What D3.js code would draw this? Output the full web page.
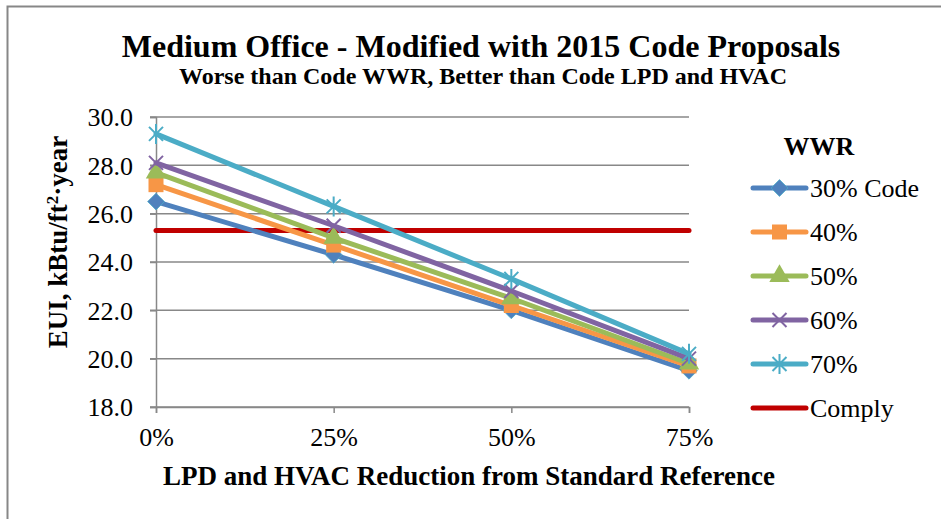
<!DOCTYPE html>
<html>
<head>
<meta charset="utf-8">
<script src="https://cdn.jsdelivr.net/npm/d3@7"></script>
<style>
  body { margin: 0; background: #fff; }
</style>
</head>
<body>
<div id="chart"></div>
<script>
// data
var reductions = [0, 25, 50, 75];
var xTickLabels = ["0%", "25%", "50%", "75%"];
var wwr30 = [26.5, 24.3, 22.0, 19.5];
var wwr40 = [27.2, 24.7, 22.2, 19.7];
var wwr50 = [27.7, 25.0, 22.5, 19.8];
var wwr60 = [28.1, 25.5, 22.8, 20.0];
var wwr70 = [29.3, 26.3, 23.3, 20.2];
var complyValue = 25.3;
var seriesNames = ["30% Code", "40%", "50%", "60%", "70%"];
var yTicks = [18, 20, 22, 24, 26, 28, 30];

var colors = ["#4F81BD", "#F79646", "#9BBB59", "#8064A2", "#4BACC6"];
var markers = ["diamond", "square", "triangle", "x", "star"];
var complyColor = "#C00000";
var FONT = "Liberation Serif";

var series = [wwr30, wwr40, wwr50, wwr60, wwr70].map(function(vals, i) {
    return {name: seriesNames[i], color: colors[i], marker: markers[i],
            values: vals.map(function(v, j) { return {x: reductions[j], y: v}; })};
});

var width = 941, height = 519;

var svg = d3.select("#chart").append("svg")
    .attr("width", width)
    .attr("height", height)
    .style("font-family", FONT);

// outer frame
svg.append("rect")
    .attr("x", 7.5).attr("y", 6.5)
    .attr("width", 960).attr("height", 540)
    .attr("fill", "none")
    .attr("stroke", "#878787")
    .attr("stroke-width", 2);

var x = d3.scaleLinear()
    .domain([0, 75])
    .range([156, 689]);
var y = d3.scaleLinear()
    .domain([18, 30])
    .range([407, 117]);

// gridlines
svg.append("g").selectAll("line")
    .data(yTicks)
    .enter().append("line")
    .attr("x1", x(0) - 6).attr("x2", x(75))
    .attr("y1", function(d) { return y(d); })
    .attr("y2", function(d) { return y(d); })
    .attr("stroke", "#888")
    .attr("stroke-width", 1.5);

// y axis
var yAxis = svg.append("g")
    .attr("transform", "translate(" + x(0) + ",0)")
    .call(d3.axisLeft(y).tickValues(yTicks).tickFormat(d3.format(".1f")).tickSize(6).tickPadding(17));
yAxis.attr("font-family", null).attr("font-size", null);
yAxis.select(".domain").attr("stroke", "#888").attr("stroke-width", 1.5);
yAxis.selectAll(".tick line").attr("stroke", "#888").attr("stroke-width", 1.5);
yAxis.selectAll("text").style("font-size", "26px").style("font-family", FONT).attr("dy", "0.34em");

// x axis
var xAxis = svg.append("g")
    .attr("transform", "translate(0," + y(18) + ")")
    .call(d3.axisBottom(x).tickValues(reductions)
        .tickFormat(function(d, i) { return xTickLabels[i]; }).tickSize(6).tickPadding(0));
xAxis.attr("font-family", null).attr("font-size", null);
xAxis.select(".domain").attr("stroke", "#888").attr("stroke-width", 1.5);
xAxis.selectAll(".tick line").attr("stroke", "#888").attr("stroke-width", 1.5);
xAxis.selectAll("text").attr("y", 39).attr("dy", null)
    .style("font-size", "26px").style("font-family", FONT);

// comply line
svg.append("line")
    .attr("x1", x(0)).attr("x2", x(75))
    .attr("y1", y(complyValue)).attr("y2", y(complyValue))
    .attr("stroke", complyColor)
    .attr("stroke-width", 5)
    .attr("stroke-linecap", "round");

var line = d3.line()
    .x(function(d) { return x(d.x); })
    .y(function(d) { return y(d.y); });

function drawMarker(g, type, color, cx, cy) {
    if (type === "diamond") {
        g.append("path").attr("d", d3.symbol().type(d3.symbolDiamond2).size(180)())
            .attr("transform", "translate(" + cx + "," + cy + ")")
            .attr("fill", color).attr("stroke", "#4BACC6").attr("stroke-width", 0.8);
    } else if (type === "square") {
        g.append("rect").attr("x", cx - 7.5).attr("y", cy - 7.5)
            .attr("width", 15).attr("height", 15).attr("fill", color);
    } else if (type === "triangle") {
        g.append("path").attr("d", d3.symbol().type(d3.symbolTriangle).size(180)())
            .attr("transform", "translate(" + cx + "," + cy + ")")
            .attr("fill", color);
    } else if (type === "x") {
        g.append("path").attr("d", "M-7,-7L7,7M-7,7L7,-7")
            .attr("transform", "translate(" + cx + "," + cy + ")")
            .attr("stroke", color).attr("stroke-width", 2).attr("fill", "none");
    } else if (type === "star") {
        g.append("path").attr("d", "M-7,-7L7,7M-7,7L7,-7M0,-10L0,10")
            .attr("transform", "translate(" + cx + "," + cy + ")")
            .attr("stroke", color).attr("stroke-width", 2).attr("fill", "none");
    }
}

series.forEach(function(s) {
    var g = svg.append("g");
    g.append("path")
        .datum(s.values)
        .attr("d", line)
        .attr("fill", "none")
        .attr("stroke", s.color)
        .attr("stroke-width", 5)
        .attr("stroke-linecap", "round");
    s.values.forEach(function(d) {
        drawMarker(g, s.marker, s.color, x(d.x), y(d.y));
    });
});

// titles
svg.append("text")
    .attr("x", 481).attr("y", 57)
    .attr("text-anchor", "middle")
    .style("font-size", "32px").style("font-weight", "bold")
    .text("Medium Office - Modified with 2015 Code Proposals");
svg.append("text")
    .attr("x", 483).attr("y", 84)
    .attr("text-anchor", "middle")
    .style("font-size", "24px").style("font-weight", "bold")
    .text("Worse than Code WWR, Better than Code LPD and HVAC");

// y axis title
var yt = svg.append("text")
    .attr("transform", "translate(67,242) rotate(-90)")
    .attr("text-anchor", "middle")
    .style("font-size", "27px").style("font-weight", "bold");
yt.append("tspan").text("EUI, kBtu/ft");
yt.append("tspan").attr("baseline-shift", "super").style("font-size", "17px").text("2");
yt.append("tspan").text("·year");

// x axis title
svg.append("text")
    .attr("x", 469).attr("y", 485)
    .attr("text-anchor", "middle")
    .style("font-size", "27px").style("font-weight", "bold")
    .text("LPD and HVAC Reduction from Standard Reference");

// legend
var legendItems = series.map(function(s) { return {name: s.name, color: s.color, marker: s.marker}; })
    .concat([{name: "Comply", color: complyColor, marker: null}]);
var legend = svg.append("g");
legend.append("text")
    .attr("x", 819).attr("y", 155)
    .attr("text-anchor", "middle")
    .style("font-size", "26px").style("font-weight", "bold")
    .text("WWR");
legendItems.forEach(function(d, i) {
    var ly = 188 + i * 44;
    legend.append("line")
        .attr("x1", 753).attr("x2", 806)
        .attr("y1", ly).attr("y2", ly)
        .attr("stroke", d.color).attr("stroke-width", 5)
        .attr("stroke-linecap", "round");
    if (d.marker) drawMarker(legend, d.marker, d.color, 779.5, ly);
    legend.append("text")
        .attr("x", 810).attr("y", ly + 9)
        .style("font-size", "26px")
        .text(d.name);
});
</script>
</body>
</html>
